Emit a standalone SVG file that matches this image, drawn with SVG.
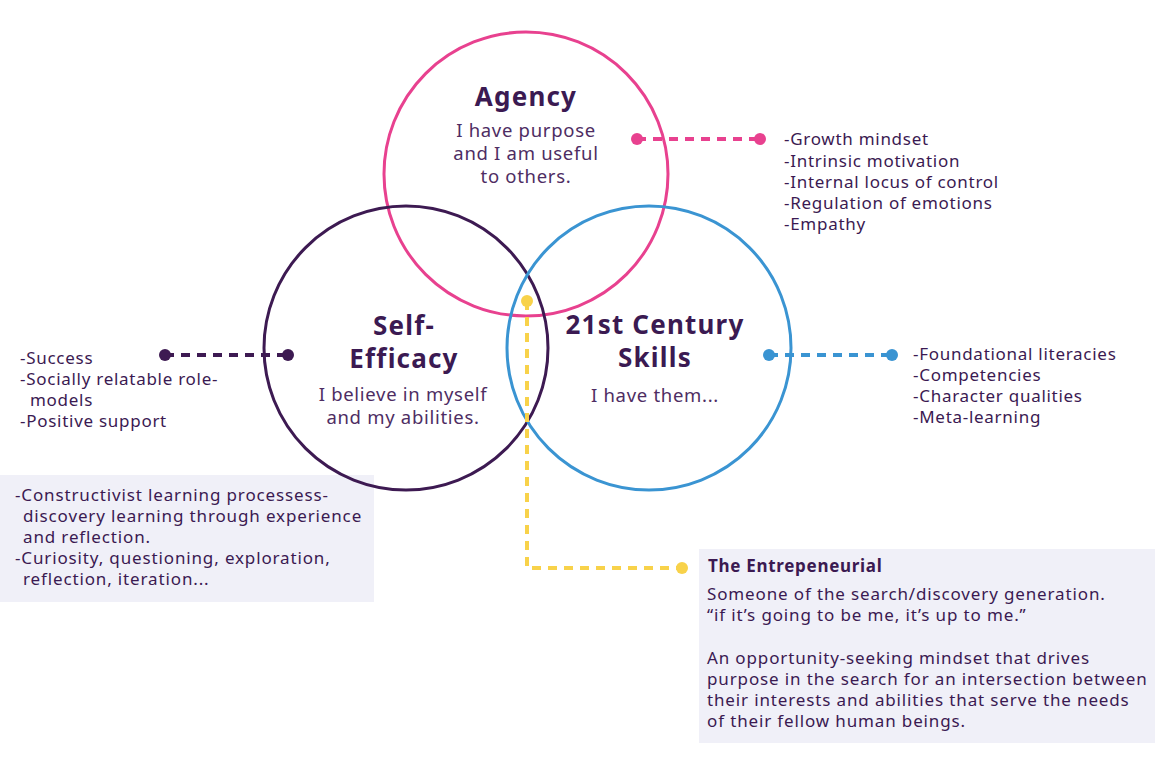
<svg xmlns="http://www.w3.org/2000/svg" width="1169" height="757" viewBox="0 0 1169 757">
<style>
.h{font-family:"Noto Sans","Open Sans",sans-serif;font-weight:700;font-size:26px;letter-spacing:1.2px;fill:#3B1A52;text-anchor:middle}
.s{font-family:"Noto Sans","Open Sans",sans-serif;font-size:18.5px;letter-spacing:0.7px;fill:#4E2D63;text-anchor:middle}
.l{font-family:"Noto Sans","Open Sans",sans-serif;font-size:17px;letter-spacing:0.72px;fill:#3B1A52}
.b{font-family:"Noto Sans","Open Sans",sans-serif;font-size:17px;letter-spacing:0.86px;fill:#3B1A52}
.bt{font-family:"Noto Sans","Open Sans",sans-serif;font-size:17px;letter-spacing:0.7px;font-weight:700;fill:#3B1A52}
.c{fill:none;stroke-width:3}
.d{fill:none;stroke-width:4;stroke-dasharray:9 7}
</style>
<rect width="1169" height="757" fill="#fff"/>
<g id="box-left">
<rect x="0" y="475" width="374" height="127" fill="#F0F0F8"/>
<text class="b" x="15" y="501">-Constructivist learning processess-</text>
<text class="b" x="23" y="522">discovery learning through experience</text>
<text class="b" x="23" y="543">and reflection.</text>
<text class="b" x="15" y="564">-Curiosity, questioning, exploration,</text>
<text class="b" x="23" y="585">reflection, iteration...</text>
</g>
<g id="box-entrepreneurial">
<rect x="699" y="549" width="456" height="194" fill="#F0F0F8"/>
<text class="bt" x="708" y="572">The Entrepeneurial</text>
<text class="b" x="707" y="600">Someone of the search/discovery generation.</text>
<text class="b" x="707" y="621">“if it’s going to be me, it’s up to me.”</text>
<text class="b" x="707" y="664">An opportunity-seeking mindset that drives</text>
<text class="b" x="707" y="685">purpose in the search for an intersection between</text>
<text class="b" x="707" y="706">their interests and abilities that serve the needs</text>
<text class="b" x="707" y="727">of their fellow human beings.</text>
</g>
<g id="agency">
<circle class="c" cx="526" cy="174" r="142" stroke="#E8418F"/>
<text class="h" x="526" y="106">Agency</text>
<text class="s" x="526" y="137">I have purpose</text>
<text class="s" x="526" y="160">and I am useful</text>
<text class="s" x="526" y="183">to others.</text>
</g>
<g id="self-efficacy">
<circle class="c" cx="406" cy="348" r="142" stroke="#3D1A52"/>
<text class="h" x="404" y="335">Self-</text>
<text class="h" x="404" y="368">Efficacy</text>
<text class="s" x="403" y="401">I believe in myself</text>
<text class="s" x="403" y="424">and my abilities.</text>
</g>
<g id="skills">
<circle class="c" cx="649" cy="348" r="142" stroke="#3A94D2"/>
<text class="h" x="655" y="334">21st Century</text>
<text class="h" x="655" y="367">Skills</text>
<text class="s" x="655" y="402">I have them...</text>
</g>
<g id="list-agency">
<text class="l" x="784" y="145">-Growth mindset</text>
<text class="l" x="784" y="167">-Intrinsic motivation</text>
<text class="l" x="784" y="188">-Internal locus of control</text>
<text class="l" x="784" y="209">-Regulation of emotions</text>
<text class="l" x="784" y="230">-Empathy</text>
</g>
<g id="list-self">
<text class="l" x="20" y="364">-Success</text>
<text class="l" x="20" y="385">-Socially relatable role-</text>
<text class="l" x="30" y="406">models</text>
<text class="l" x="20" y="427">-Positive support</text>
</g>
<g id="list-skills">
<text class="l" x="913" y="360">-Foundational literacies</text>
<text class="l" x="913" y="381">-Competencies</text>
<text class="l" x="913" y="402">-Character qualities</text>
<text class="l" x="913" y="423">-Meta-learning</text>
</g>
<g id="connectors">
<path class="d" d="M637 139H760" stroke="#E8418F"/>
<circle cx="637" cy="139" r="6" fill="#E8418F"/>
<circle cx="760" cy="139" r="6" fill="#E8418F"/>
<path class="d" d="M165 355H288" stroke="#3D1A52"/>
<circle cx="165" cy="355" r="6" fill="#3D1A52"/>
<circle cx="288" cy="355" r="6" fill="#3D1A52"/>
<path class="d" d="M769 355H892" stroke="#3A94D2"/>
<circle cx="769" cy="355" r="6" fill="#3A94D2"/>
<circle cx="892" cy="355" r="6" fill="#3A94D2"/>
<path class="d" d="M527 301V568H682" stroke="#F8D24A"/>
<circle cx="527" cy="301" r="6" fill="#F8D24A"/>
<circle cx="682" cy="568" r="6" fill="#F8D24A"/>
</g>
</svg>
